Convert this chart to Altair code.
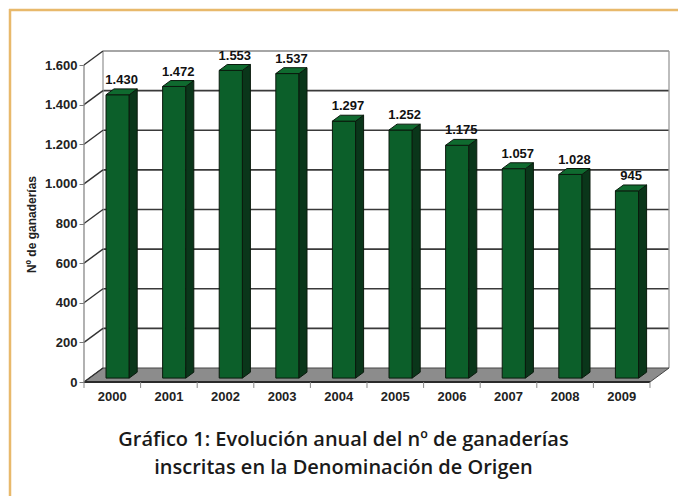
import altair as alt
import pandas as pd

# ---------------- data ----------------
years = ["2000", "2001", "2002", "2003", "2004", "2005", "2006", "2007", "2008", "2009"]
values = [1430, 1472, 1553, 1537, 1297, 1252, 1175, 1057, 1028, 945]
y_ticks = [0, 200, 400, 600, 800, 1000, 1200, 1400, 1600]
caption = ["Gráfico 1: Evolución anual del nº de ganaderías",
           "inscritas en la Denominación de Origen"]
y_title = "Nº de ganaderías"

# ---------------- 3D geometry (in data units) ----------------
N = len(years)
DX = 0.3357      # depth offset along x (category units)
DY = 70.7        # depth offset along y (value units)
F0, F1 = 0.28, 0.70   # bar depth start / end (fraction of depth)
BAR_W = 0.41

W, H = 585, 360
xs = alt.Scale(domain=[0, N + DX], nice=False, zero=False)
ys = alt.Scale(domain=[-111.0, 1706.0], nice=False, zero=False)

FONT = "Liberation Sans"
yaxis = alt.Axis(values=y_ticks, domain=False, grid=False, tickSize=5, tickColor="#777",
                 tickWidth=1, labelFont=FONT, labelFontSize=13, labelFontWeight="bold",
                 labelColor="#222", labelPadding=2,
                 labelExpr="replace(format(datum.value, ','), ',', '.')",
                 title=y_title, titleFont=FONT, titleFontSize=12, titleFontWeight="bold",
                 titleColor="#222", titlePadding=6)


def X(f):
    return alt.X(f, type="quantitative", scale=xs, axis=None)


def Y(f):
    return alt.Y(f, type="quantitative", scale=ys, axis=yaxis)


def fmt(v):
    return f"{v:,}".replace(",", ".")


# back wall gridlines
grid = pd.DataFrame({"x": [DX] * len(y_ticks), "x2": [N + DX] * len(y_ticks),
                     "y": [v + DY for v in y_ticks],
                     "top": [v == y_ticks[-1] for v in y_ticks]})
grid_dark = alt.Chart(grid[(~grid["top"]) & (grid["y"] > DY)]).mark_rule(
    color="#3a3a3a", strokeWidth=1.6).encode(x=X("x"), x2="x2", y=Y("y"))
grid_top = alt.Chart(grid[grid["top"]]).mark_rule(
    color="#888", strokeWidth=1.5).encode(x=X("x"), x2="x2", y=Y("y"))

# wall vertical edges
edges = pd.DataFrame({"x": [DX, N + DX], "y": [DY, DY], "y2": [y_ticks[-1] + DY] * 2})
wall_edges = alt.Chart(edges).mark_rule(color="#9a9a9a", strokeWidth=1.3).encode(
    x=X("x"), y=Y("y"), y2="y2")

# floor
floor = pd.DataFrame({"y": [0, DY], "x": [0, DX], "x2": [N, N + DX]})
floor_area = alt.Chart(floor).mark_area(orient="horizontal", color="#8c8c8c",
                                        stroke="#444", strokeWidth=1).encode(
    y=Y("y"), x=X("x"), x2="x2")
floor_front = alt.Chart(pd.DataFrame({"x": [0], "x2": [N], "y": [0]})).mark_rule(
    color="#2a2a2a", strokeWidth=2).encode(x=X("x"), x2="x2", y=Y("y"))

# diagonals from front axis to back wall
diag = pd.DataFrame({"x": [0] * len(y_ticks), "x2": [DX] * len(y_ticks),
                     "y": y_ticks, "y2": [v + DY for v in y_ticks]})
diagonals = alt.Chart(diag).mark_rule(color="#333", strokeWidth=1.4).encode(
    x=X("x"), x2="x2", y=Y("y"), y2="y2")

# front axis line
front_axis = alt.Chart(pd.DataFrame({"x": [0], "y": [0], "y2": [y_ticks[-1]]})).mark_rule(
    color="#888", strokeWidth=1.3).encode(x=X("x"), y=Y("y"), y2="y2")

# x ticks
xt = pd.DataFrame({"x": list(range(N + 1)), "y": [0] * (N + 1), "y2": [-30] * (N + 1)})
x_ticks = alt.Chart(xt).mark_rule(color="#888", strokeWidth=1).encode(
    x=X("x"), y=Y("y"), y2="y2")

# bars
front_rows, side_rows, top_rows, lab_rows = [], [], [], []
for i, (yr, v) in enumerate(zip(years, values)):
    xl = i + 0.5 - BAR_W / 2
    xr = i + 0.5 + BAR_W / 2
    front_rows.append({"bar": yr, "x": xl + F0 * DX, "x2": xr + F0 * DX,
                       "y": F0 * DY, "y2": v + F0 * DY})
    side_rows.append({"bar": yr, "x": xr + F0 * DX, "y": v + F0 * DY, "y2": F0 * DY})
    side_rows.append({"bar": yr, "x": xr + F1 * DX, "y": v + F1 * DY, "y2": F1 * DY})
    top_rows.append({"bar": yr, "y": v + F0 * DY, "x": xl + F0 * DX, "x2": xr + F0 * DX})
    top_rows.append({"bar": yr, "y": v + F1 * DY, "x": xl + F1 * DX, "x2": xr + F1 * DX})
    lab_rows.append({"bar": yr, "x": i + 0.5 + (F0 + F1) / 2 * DX, "y": v + F1 * DY,
                     "label": fmt(v)})

front = alt.Chart(pd.DataFrame(front_rows)).mark_rect(
    color="#0c5f2a", stroke="#0a1a0d", strokeWidth=1).encode(
    x=X("x"), x2="x2", y=Y("y"), y2="y2")
side = alt.Chart(pd.DataFrame(side_rows)).mark_area(
    orient="vertical", color="#0a361a", stroke="#0a1a0d", strokeWidth=1).encode(
    x=X("x"), y=Y("y"), y2="y2", detail="bar:N")
top = alt.Chart(pd.DataFrame(top_rows)).mark_area(
    orient="horizontal", color="#0f6a2f", stroke="#0a1a0d", strokeWidth=1).encode(
    y=Y("y"), x=X("x"), x2="x2", detail="bar:N")
labels = alt.Chart(pd.DataFrame(lab_rows)).mark_text(
    font=FONT, fontSize=13, fontWeight="bold", color="#111", baseline="alphabetic",
    dy=-5).encode(x=X("x"), y=Y("y"), text="label:N")

# year labels
yl = pd.DataFrame({"x": [i + 0.5 for i in range(N)], "y": [0] * N, "label": years})
year_labels = alt.Chart(yl).mark_text(
    font=FONT, fontSize=13, fontWeight="bold", color="#222", baseline="middle",
    dy=15).encode(x=X("x"), y=Y("y"), text="label:N")

# decorative orange frame
one = pd.DataFrame({"a": [0]})
frame_left = alt.Chart(one).mark_rule(color="#e8b96b", strokeWidth=2.5).encode(
    x=alt.value(-74), y=alt.value(-35), y2=alt.value(452))
frame_top = alt.Chart(one).mark_rule(color="#e8b96b", strokeWidth=2.5).encode(
    x=alt.value(-75), x2=alt.value(594), y=alt.value(-34))

chart = alt.layer(
    grid_top, grid_dark, wall_edges, floor_area, floor_front, diagonals, front_axis,
    x_ticks, front, side, top, labels, year_labels, frame_left, frame_top
).properties(
    width=W, height=H,
    autosize=alt.AutoSizeParams(type="none"),
    padding={"left": 76, "top": 36, "right": 9, "bottom": 92},
    background="white",
    title=alt.TitleParams(text=caption, orient="bottom", anchor="middle",
                          font="Open Sans", fontSize=20, fontWeight=600,
                          color="#1a1a1a", lineHeight=27.5, offset=-67, dx=-33),
).configure_view(stroke=None)

chart.save("out.html", embed_options={"renderer": "svg", "actions": False})
